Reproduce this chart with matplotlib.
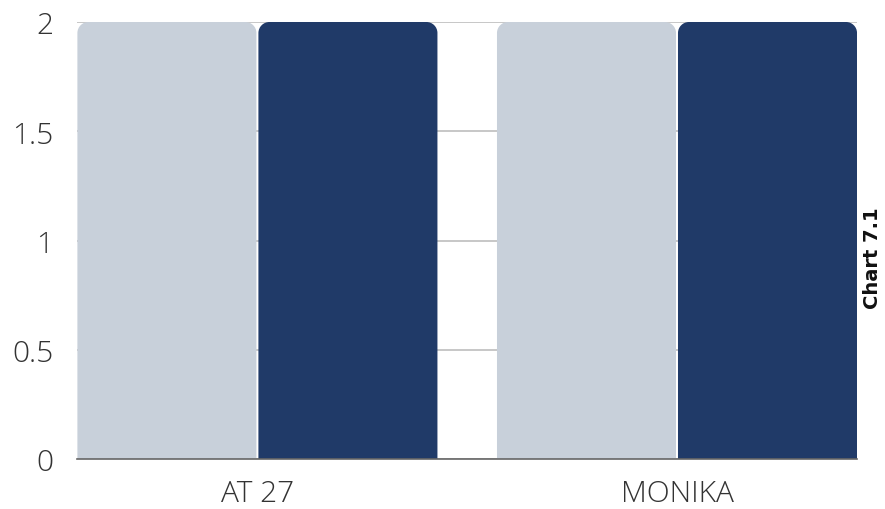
import matplotlib
matplotlib.use("Agg")
import matplotlib.pyplot as plt
from matplotlib.path import Path
from matplotlib.patches import PathPatch
import numpy as np

categories = ["AT 27", "MONIKA"]
series_a = [2, 2]
series_b = [2, 2]
yticks = [0, 0.5, 1, 1.5, 2]
ytick_labels = ["0", "0.5", "1", "1.5", "2"]

color_a = "#c8d0da"
color_b = "#203a68"

W, H = 885, 510
fig = plt.figure(figsize=(W / 100, H / 100), dpi=100)
left, right, top, bottom = 77, 857, 23, 460
ax = fig.add_axes([left / W, 1 - bottom / H, (right - left) / W, (bottom - top) / H])

x = np.arange(len(categories))
ax.set_xlim(-0.430, 1.429)
ax.set_ylim(0, 2)

bw = 0.4267
off = 0.2157
bars_a = ax.bar(x - off, series_a, width=bw, color=color_a)
bars_b = ax.bar(x + off, series_b, width=bw, color=color_b)

fig.canvas.draw()
# replace rectangles with top-rounded paths (radius in pixels)
r_px = 11
def sx(d):
    return abs(ax.transData.transform((d, 0))[0] - ax.transData.transform((0, 0))[0])
def sy(d):
    return abs(ax.transData.transform((0, d))[1] - ax.transData.transform((0, 0))[1])
rx = r_px / sx(1.0)
ry = r_px / sy(1.0)
k = 0.5523
for bars in (bars_a, bars_b):
    for rect in bars:
        x0, y0 = rect.get_x(), rect.get_y()
        w, h = rect.get_width(), rect.get_height()
        x1, y1 = x0 + w, y0 + h
        verts = [
            (x0, y0), (x0, y1 - ry),
            (x0, y1 - ry + k * ry), (x0 + rx - k * rx, y1), (x0 + rx, y1),
            (x1 - rx, y1),
            (x1 - rx + k * rx, y1), (x1, y1 - ry + k * ry), (x1, y1 - ry),
            (x1, y0), (x0, y0),
        ]
        codes = [Path.MOVETO, Path.LINETO,
                 Path.CURVE4, Path.CURVE4, Path.CURVE4,
                 Path.LINETO,
                 Path.CURVE4, Path.CURVE4, Path.CURVE4,
                 Path.LINETO, Path.CLOSEPOLY]
        patch = PathPatch(Path(verts, codes), facecolor=rect.get_facecolor(),
                          edgecolor="none", zorder=2)
        rect.set_visible(False)
        ax.add_patch(patch)

ax.set_yticks(yticks)
ax.set_yticklabels(ytick_labels)
ax.set_xticks(x)
ax.set_xticklabels(categories)
ax.grid(axis="y", color="#bdbdbd", linewidth=1.2, zorder=0)
ax.set_axisbelow(True)
for s in ["top", "right", "left"]:
    ax.spines[s].set_visible(False)
ax.spines["bottom"].set_color("#666666")
ax.spines["bottom"].set_linewidth(1.2)
ax.spines["bottom"].set_zorder(3)
ax.tick_params(axis="both", length=0, labelsize=21.5, labelcolor="#333333")
ax.tick_params(axis="y", pad=17)
ax.tick_params(axis="x", pad=14)
for lab in ax.get_xticklabels() + ax.get_yticklabels():
    lab.set_fontfamily("Open Sans")
    lab.set_fontweight("light")

fig.text(873 / W, 1 - 258 / H, "Chart 7.1", rotation=90, ha="center", va="center",
         fontsize=14, fontweight="bold", family="DejaVu Sans", color="#111111")

fig.savefig("out.png", dpi=100)
